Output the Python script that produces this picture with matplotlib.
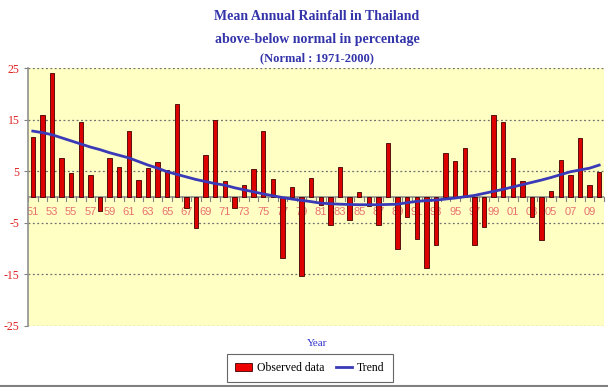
import matplotlib
matplotlib.use("Agg")
import matplotlib.pyplot as plt
import numpy as np
from matplotlib.patches import Patch
from matplotlib.lines import Line2D

years = list(range(1951, 2011))
observed = [11.7, 15.9, 24.0, 7.6, 4.7, 14.5, 4.3, -2.8, 7.6, 5.9,
            12.9, 3.3, 5.6, 6.8, 5.2, 18.0, -2.2, -6.0, 8.2, 14.9,
            3.2, -2.2, 2.3, 5.5, 12.9, 3.4, -11.8, 2.0, -15.4, 3.6,
            -1.6, -5.4, 5.8, -4.4, 0.9, -1.8, -5.4, 10.5, -10.1, -3.8,
            -8.2, -13.7, -9.3, 8.6, 6.9, 9.6, -9.3, -5.9, 16.0, 14.5,
            7.6, 3.1, -3.8, -8.3, 1.2, 7.1, 4.3, 11.4, 2.4, 4.9]
trend = [12.8, 12.5, 12.1, 11.5, 10.9, 10.3, 9.7, 9.2, 8.6, 8.1,
         7.6, 6.9, 6.2, 5.6, 4.9, 4.4, 3.9, 3.4, 3.0, 2.6,
         2.3, 1.8, 1.4, 1.0, 0.6, 0.25, -0.1, -0.4, -0.65, -0.9,
         -1.2, -1.3, -1.4, -1.45, -1.5, -1.5, -1.5, -1.45, -1.4, -1.1,
         -0.85, -0.7, -0.6, -0.4, -0.2, 0.05, 0.3, 0.7, 1.1, 1.5,
         1.95, 2.4, 2.85, 3.3, 3.8, 4.35, 4.9, 5.25, 5.6, 6.2]
yticks = [25, 15, 5, -5, -15, -25]
xlabels = [f"{y % 100:02d}" for y in years]

fig = plt.figure(figsize=(6.08, 3.87), dpi=100)
ax = fig.add_axes([28/608, 1-325.7/387, 576/608, 257.4/387])
ax.set_facecolor("#ffffc4")

x = np.arange(len(years))
ax.bar(x, observed, width=0.45, color="#dd0000", edgecolor="#400000", linewidth=0.6, zorder=3)
ax.plot(x, trend, color="#3a3ab8", linewidth=2, zorder=4)

ax.set_xlim(-0.5, len(years) - 0.5)
ax.set_ylim(-25, 25)

for v in yticks:
    ax.axhline(v, color="#707070", linestyle=(0, (1.5, 2)), linewidth=0.9, zorder=1)
ax.axhline(0, color="#909090", linewidth=1.2, zorder=2)

# tick marks at category boundaries on the zero line
for b in np.arange(-0.5, len(years)):
    ax.plot([b, b], [0, -0.7], color="#808080", linewidth=0.8, zorder=2, clip_on=False)

ax.set_xticks([])
for i in range(0, len(years), 2):
    ax.text(x[i], -2.0, xlabels[i], ha="center", va="top", fontsize=8,
            color="#e87070", family="Liberation Sans", zorder=2)

ax.set_yticks(yticks)
ax.set_yticklabels([str(v) for v in yticks], family="Liberation Serif", fontsize=8.5, color="#e02020")
ax.tick_params(axis="y", length=3, color="#808080", pad=3)

for s in ["top", "right", "bottom"]:
    ax.spines[s].set_visible(False)
ax.spines["left"].set_color("#909090")
ax.spines["left"].set_linewidth(1.2)

tf = dict(family="Liberation Serif", fontweight="bold", color="#3333aa", ha="center")
fig.text(317/608, 1-17/387, "Mean Annual Rainfall in Thailand", fontsize=10, va="center", **tf)
fig.text(317/608, 1-40/387, "above-below normal in percentage", fontsize=10, va="center", **tf)
fig.text(317/608, 1-58/387, "(Normal : 1971-2000)", fontsize=9, va="center", **tf)
fig.text(317/608, 1-344/387, "Year", fontsize=8, va="center", ha="center",
         family="Liberation Serif", color="#3333cc")

handles = [Patch(facecolor="#ee0000", edgecolor="#400000", linewidth=0.6),
           Line2D([], [], color="#3a3ab8", linewidth=2)]
leg = fig.legend(handles, ["Observed data", "Trend"], loc="center", bbox_to_anchor=(310/608, 1-368/387),
                 ncol=2, frameon=True, fancybox=False, edgecolor="#404040",
                 prop={"family": "Liberation Serif", "size": 8.5}, handlelength=1.4,
                 columnspacing=1.0, borderpad=0.7, handletextpad=0.4)
leg.get_frame().set_linewidth(0.8)

fig.add_artist(Line2D([0, 1], [1.2/387, 1.2/387], color="#808080", linewidth=1.5, transform=fig.transFigure))

fig.savefig("out.png", dpi=100)
